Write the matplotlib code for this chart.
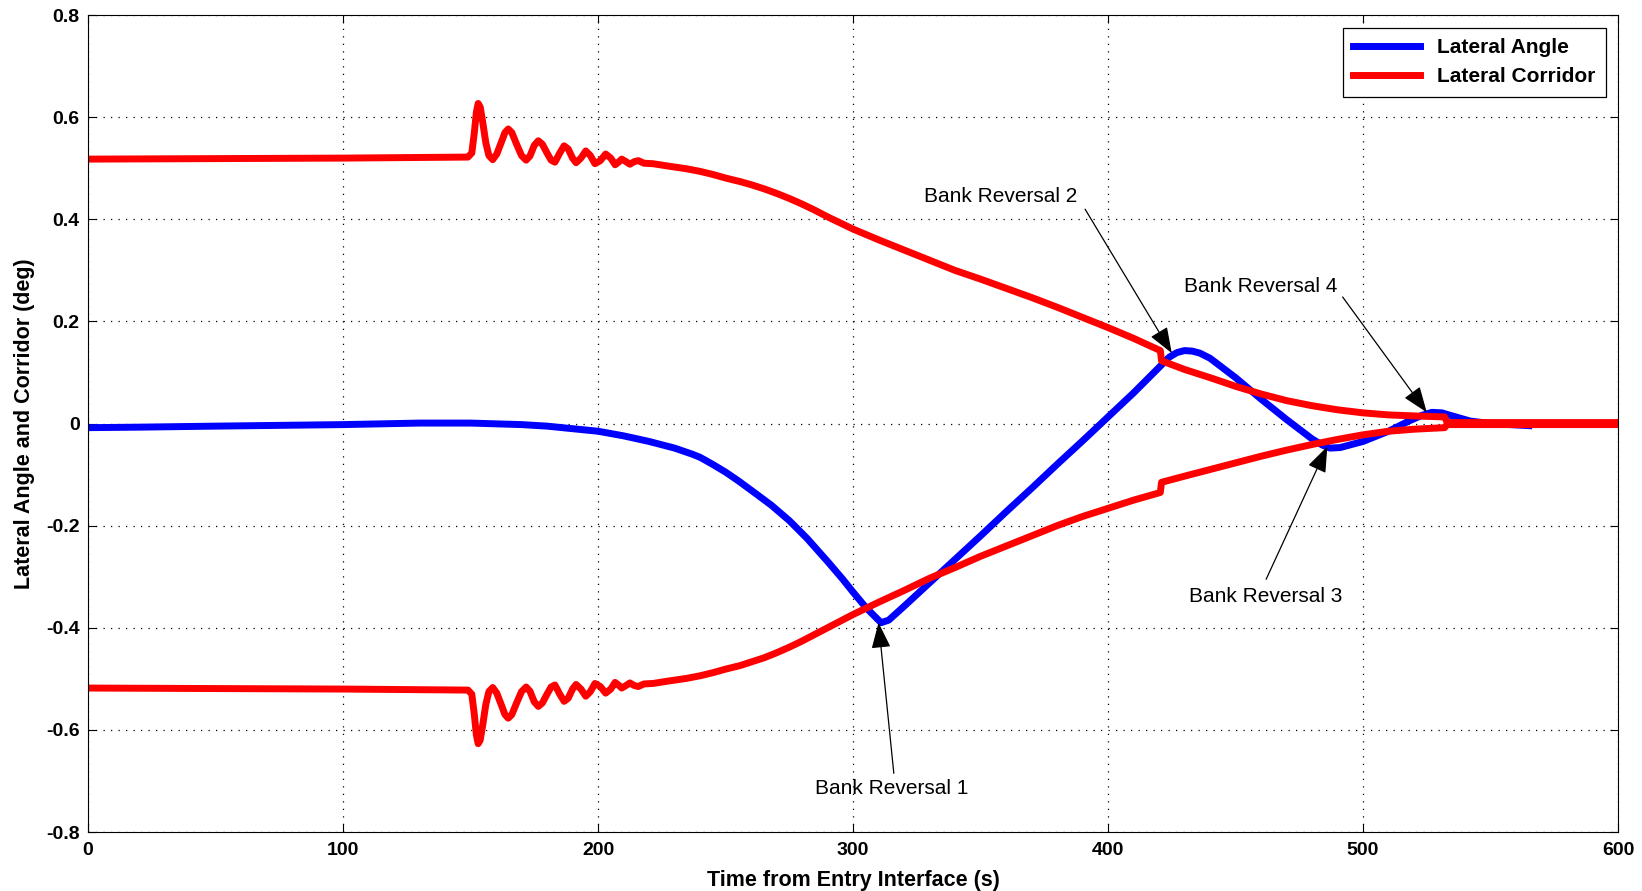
import matplotlib.pyplot as plt

plt.rcParams['font.family'] = ['Liberation Sans', 'DejaVu Sans']

# 측면 각도 (blue)
t_angle = [0, 20, 50, 100, 130, 150, 170, 180, 190, 200, 210, 220, 230, 237, 240,
           245, 250, 255, 261, 268, 275, 282, 290, 296, 300, 305, 309, 311, 314,
           320, 330, 340, 350, 360, 370, 380, 390, 400, 410, 421, 424, 427, 430,
           433, 436, 440, 450, 460, 470, 480, 484, 487, 491, 500, 510, 518, 523,
           527, 531, 535, 542, 550, 565]
angle = [-0.008, -0.007, -0.005, -0.002, 0.001, 0.001, -0.002, -0.005, -0.01, -0.015,
         -0.024, -0.035, -0.048, -0.06, -0.066, -0.08, -0.095, -0.112, -0.134, -0.16,
         -0.19, -0.225, -0.27, -0.305, -0.33, -0.36, -0.38, -0.39, -0.385, -0.358,
         -0.312, -0.266, -0.22, -0.173, -0.127, -0.08, -0.034, 0.013, 0.06, 0.115,
         0.13, 0.139, 0.143, 0.142, 0.138, 0.128, 0.09, 0.048, 0.008, -0.03, -0.042,
         -0.048, -0.047, -0.035, -0.015, 0.005, 0.016, 0.022, 0.021, 0.015, 0.005,
         0.0, -0.004]

# 측면 회랑 상한 (red)
t_upper = [0, 100, 149, 150.5, 151.5, 152.3, 153, 153.8, 154.8, 156, 157.2, 158.7,
           160.3, 162, 163.5, 164.8, 166.2, 168, 170, 171.8, 173.3, 175, 176.6,
           178.2, 180, 181.6, 183.1, 185, 186.7, 188.3, 190, 191.4, 193.3, 195.2,
           197, 198.8, 200.9, 203, 205, 206.7, 208, 209.3, 211, 212.5, 214.2, 215.8,
           218, 221.6, 228, 234.8, 240, 245, 250, 255.7, 260, 265, 270, 275, 280,
           285, 290, 295, 300, 310, 320, 330, 340, 350, 360, 370, 380, 390, 400,
           410, 420.5, 421, 430, 440, 450, 460, 470, 480, 490, 500, 510, 520, 532,
           533, 600]
upper = [0.518, 0.52, 0.522, 0.53, 0.57, 0.61, 0.627, 0.62, 0.59, 0.55, 0.525, 0.517,
         0.528, 0.55, 0.57, 0.577, 0.57, 0.548, 0.525, 0.516, 0.524, 0.545, 0.554,
         0.547, 0.53, 0.516, 0.512, 0.53, 0.544, 0.538, 0.52, 0.511, 0.52, 0.534,
         0.525, 0.509, 0.515, 0.528, 0.52, 0.507, 0.512, 0.518, 0.513, 0.508, 0.513,
         0.515, 0.51, 0.509, 0.504, 0.499, 0.494, 0.488, 0.481, 0.474, 0.468, 0.46,
         0.451, 0.441, 0.43, 0.418, 0.405, 0.393, 0.381, 0.36, 0.34, 0.32, 0.3,
         0.283, 0.265, 0.247, 0.228, 0.208, 0.188, 0.167, 0.143, 0.123, 0.106, 0.09,
         0.073, 0.058, 0.045, 0.035, 0.027, 0.021, 0.017, 0.015, 0.013, 0.002, 0.002]

# 측면 회랑 하한 (red)
t_lower = [0, 100, 149, 150.5, 151.5, 152.3, 153, 153.8, 154.8, 156, 157.2, 158.7,
           160.3, 162, 163.5, 164.8, 166.2, 168, 170, 171.8, 173.3, 175, 176.6,
           178.2, 180, 181.6, 183.1, 185, 186.7, 188.3, 190, 191.4, 193.3, 195.2,
           197, 198.8, 200.9, 203, 205, 206.7, 208, 209.3, 211, 212.5, 214.2, 215.8,
           218, 221.6, 228, 234.8, 240, 245, 250, 255.7, 260, 265, 270, 275, 280,
           285, 290, 295, 300, 310, 320, 330, 340, 350, 360, 370, 380, 390, 400,
           410, 420.5, 421, 430, 440, 450, 460, 470, 480, 490, 500, 510, 520, 532,
           533, 600]
lower = [-0.518, -0.52, -0.522, -0.53, -0.57, -0.61, -0.627, -0.62, -0.59, -0.55,
         -0.525, -0.517, -0.528, -0.55, -0.57, -0.577, -0.57, -0.548, -0.525, -0.516,
         -0.524, -0.545, -0.554, -0.547, -0.53, -0.516, -0.512, -0.53, -0.544, -0.538,
         -0.52, -0.511, -0.52, -0.534, -0.525, -0.509, -0.515, -0.528, -0.52, -0.507,
         -0.512, -0.518, -0.513, -0.508, -0.513, -0.515, -0.51, -0.509, -0.504,
         -0.499, -0.494, -0.488, -0.481, -0.474, -0.467, -0.459, -0.449, -0.438,
         -0.426, -0.413, -0.4, -0.387, -0.374, -0.35, -0.327, -0.303, -0.282, -0.26,
         -0.24, -0.22, -0.2, -0.182, -0.166, -0.15, -0.135, -0.115, -0.103, -0.09,
         -0.077, -0.064, -0.052, -0.041, -0.031, -0.022, -0.015, -0.011, -0.008,
         -0.002, -0.002]

# 주석 (텍스트 위치, 화살표 꼬리, 화살표 머리)
notes = ['Bank Reversal 1', 'Bank Reversal 2', 'Bank Reversal 3', 'Bank Reversal 4']
note_text_xy = [(315, -0.715), (358, 0.445), (462, -0.338), (460, 0.268)]
note_tail_xy = [(316, -0.685), (391, 0.42), (462, -0.305), (492, 0.248)]
note_head_xy = [(310, -0.39), (425, 0.138), (486, -0.045), (525, 0.022)]

fig = plt.figure(figsize=(16.42, 8.91), dpi=100)
ax = fig.add_axes([0.0536, 0.0662, 0.9318, 0.9168])

ax.plot(t_angle, angle, color='#0000ff', lw=5, label='Lateral Angle')
ax.plot(t_upper, upper, color='#ff0000', lw=5, label='Lateral Corridor')
ax.plot(t_lower, lower, color='#ff0000', lw=5)

for s, txy, tail, head in zip(notes, note_text_xy, note_tail_xy, note_head_xy):
    ax.text(txy[0], txy[1], s, ha='center', va='center', fontsize=15)
    ax.annotate('', xy=head, xytext=tail,
                arrowprops=dict(arrowstyle='-|>,head_length=0.8,head_width=0.3',
                                color='black', lw=0.9, mutation_scale=20,
                                shrinkA=0, shrinkB=0))

ax.set_xlim(0, 600)
ax.set_ylim(-0.8, 0.8)
ax.set_xticks([0, 100, 200, 300, 400, 500, 600])
ax.set_yticks([-0.8, -0.6, -0.4, -0.2, 0, 0.2, 0.4, 0.6, 0.8])
ax.set_yticklabels(['-0.8', '-0.6', '-0.4', '-0.2', '0', '0.2', '0.4', '0.6', '0.8'])
ax.tick_params(direction='in', top=True, right=True, length=6, labelsize=14)
ax.tick_params(axis='x', pad=7)
ax.tick_params(axis='y', pad=6)
for lab in ax.get_xticklabels() + ax.get_yticklabels():
    lab.set_fontweight('bold')
ax.grid(True, color='black', linestyle=(0, (1, 5)), linewidth=0.9)

ax.set_xlabel('Time from Entry Interface (s)', fontsize=15.5, fontweight='bold', labelpad=8)
ax.set_ylabel('Lateral Angle and Corridor (deg)', fontsize=15.5, fontweight='bold', labelpad=8)

leg = ax.legend(loc='upper right', fancybox=False, framealpha=1, edgecolor='black',
                prop={'weight': 'bold', 'size': 15}, handlelength=3.2,
                borderaxespad=0.6, labelspacing=0.5, borderpad=0.5)
leg.get_frame().set_linewidth(0.9)

plt.savefig('out.png', dpi=100)
